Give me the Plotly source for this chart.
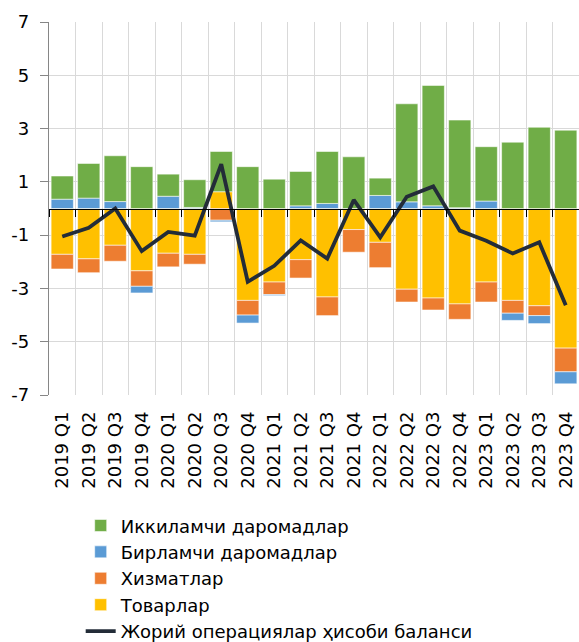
import plotly.graph_objects as go

quarters = ["2019 Q1", "2019 Q2", "2019 Q3", "2019 Q4",
            "2020 Q1", "2020 Q2", "2020 Q3", "2020 Q4",
            "2021 Q1", "2021 Q2", "2021 Q3", "2021 Q4",
            "2022 Q1", "2022 Q2", "2022 Q3", "2022 Q4",
            "2023 Q1", "2023 Q2", "2023 Q3", "2023 Q4"]

goods = [-1.72, -1.89, -1.38, -2.34, -1.68, -1.72, 0.63, -3.45,
         -2.76, -1.92, -3.32, -0.79, -1.27, -3.03, -3.36, -3.58,
         -2.76, -3.45, -3.65, -5.24]
services = [-0.55, -0.52, -0.60, -0.58, -0.51, -0.37, -0.44, -0.55,
            -0.47, -0.69, -0.70, -0.85, -0.95, -0.48, -0.45, -0.58,
            -0.75, -0.48, -0.37, -0.89]
primary_income = [0.35, 0.39, 0.26, -0.25, 0.46, 0.04, -0.06, -0.30,
                  -0.04, 0.10, 0.19, 0.00, 0.49, 0.25, 0.10, 0.03,
                  0.28, -0.27, -0.30, -0.45]
secondary_income = [0.87, 1.30, 1.72, 1.57, 0.83, 1.04, 1.51, 1.57,
                    1.10, 1.29, 1.95, 1.94, 0.65, 3.68, 4.52, 3.29,
                    2.04, 2.49, 3.05, 2.94]
current_account = [-1.05, -0.72, 0.00, -1.60, -0.88, -1.02, 1.66, -2.75,
                   -2.15, -1.20, -1.88, 0.32, -1.08, 0.44, 0.83, -0.83,
                   -1.21, -1.69, -1.27, -3.63]

names = {
    "secondary": "Иккиламчи даромадлар",
    "primary": "Бирламчи даромадлар",
    "services": "Хизматлар",
    "goods": "Товарлар",
    "ca": "Жорий операциялар ҳисоби баланси",
}

FONT = "DejaVu Sans"
edge = dict(color="rgba(255,255,255,0.55)", width=1)

fig = go.Figure()
fig.add_trace(go.Bar(x=quarters, y=goods, name=names["goods"],
                     marker=dict(color="#FFC000", line=edge), legendrank=4))
fig.add_trace(go.Bar(x=quarters, y=services, name=names["services"],
                     marker=dict(color="#ED7D31", line=edge), legendrank=3))
fig.add_trace(go.Bar(x=quarters, y=primary_income, name=names["primary"],
                     marker=dict(color="#5B9BD5", line=edge), legendrank=2))
fig.add_trace(go.Bar(x=quarters, y=secondary_income, name=names["secondary"],
                     marker=dict(color="#70AD47", line=edge), legendrank=1))
fig.add_trace(go.Scatter(x=quarters, y=current_account, name=names["ca"],
                         mode="lines", xaxis="x2", yaxis="y",
                         line=dict(color="#232C38", width=3.8), legendrank=5))

fig.update_layout(
    width=579, height=642,
    margin=dict(l=49, r=0, t=22, b=247, autoexpand=False),
    paper_bgcolor="white", plot_bgcolor="white",
    barmode="relative", bargap=0.16,
    font=dict(family=FONT, size=18, color="#000000"),
    showlegend=True,
    legend=dict(orientation="v", x=0.0598, xanchor="left", y=-0.301, yanchor="top",
                traceorder="normal", font=dict(family=FONT, size=18, color="#000000"),
                itemwidth=30, tracegroupgap=0, bgcolor="rgba(0,0,0,0)"),
    xaxis=dict(type="category", tickson="boundaries", showgrid=True,
               gridcolor="#D9D9D9", gridwidth=1, ticks="", tickangle=-90,
               showline=False, ticklabelstandoff=12,
               tickfont=dict(family=FONT, size=18, color="#000000")),
    xaxis2=dict(type="category", overlaying="x", anchor="free", position=0.5,
                matches="x", side="bottom", tickson="boundaries", showgrid=False,
                ticks="outside", ticklen=7, tickcolor="#000000", tickwidth=1,
                showline=True, linecolor="#000000", linewidth=1.3,
                showticklabels=False),
    yaxis=dict(range=[-7, 7], tickmode="array",
               tickvals=[-7, -5, -3, -1, 1, 3, 5, 7],
               ticktext=["-7", "-5", "-3", "-1", "1", "3", "5", "7"],
               showgrid=True, gridcolor="#D9D9D9", gridwidth=1,
               zeroline=False, showline=True, linecolor="#868686", linewidth=1.3,
               ticks="outside", ticklen=8, tickcolor="#868686",
               ticklabelstandoff=7,
               tickfont=dict(family=FONT, size=18, color="#000000")),
)

fig.write_html(
    "out.html",
    config={"displayModeBar": False},
    post_script="document.body.style.margin='0px';document.body.style.padding='0px';",
)
